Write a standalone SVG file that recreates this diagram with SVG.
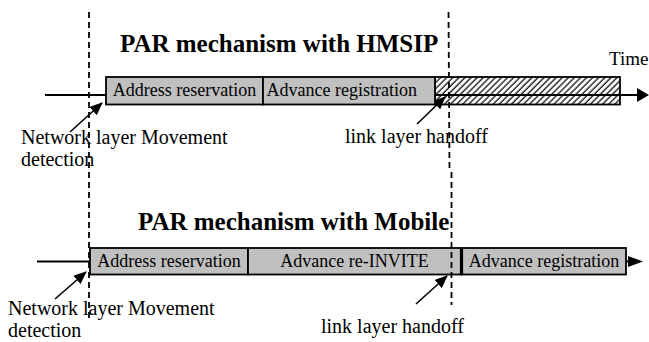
<svg xmlns="http://www.w3.org/2000/svg" width="649" height="342" viewBox="0 0 649 342">
<style>
text{font-family:"Liberation Serif","Times New Roman",serif;fill:#000}
.title{font-size:25px;font-weight:bold}
.lbl{font-size:20px}
.bx{font-size:18px}
.box{fill:#c0c0c0;stroke:#000;stroke-width:1.8}
.axis{stroke:#000;stroke-width:1.8;fill:none}
.dash{stroke:#000;stroke-width:1.8;stroke-dasharray:6,4;fill:none}
.ptr{stroke:#000;stroke-width:1.6;fill:none;marker-end:url(#ah)}
</style>
<defs>
<marker id="ah" markerUnits="userSpaceOnUse" markerWidth="13" markerHeight="11" refX="12" refY="5.5" orient="auto">
<path d="M0,0 L13,5.5 L0,11 z" fill="#000"/>
</marker>
<pattern id="hatch" patternUnits="userSpaceOnUse" width="4.3" height="4.3" patternTransform="rotate(45)">
<rect width="4.3" height="4.3" fill="#fff"/>
<line x1="1" y1="0" x2="1" y2="4.3" stroke="#222" stroke-width="1.4"/>
</pattern>
</defs>
<rect width="649" height="342" fill="#fff"/>

<g id="title-hmsip"><text class="title" x="120" y="52">PAR mechanism with HMSIP</text></g>
<g id="time-label"><text class="lbl" x="609" y="65" style="font-size:19px">Time</text></g>

<g id="hatched-period"><rect x="435" y="77" width="185" height="27.5" fill="url(#hatch)" stroke="#000" stroke-width="1.8"/></g>

<g id="connectors">
<line class="axis" x1="45" y1="95" x2="640" y2="95"/>
<polygon points="637,88 649,95 637,102" fill="#000"/>
<line class="axis" x1="37" y1="261.5" x2="630" y2="261.5"/>
<polygon points="628,256 643,261.5 628,267" fill="#000"/>
<line class="ptr" x1="70" y1="132" x2="102" y2="103"/>
<line class="ptr" x1="417" y1="124" x2="445" y2="97"/>
<line class="ptr" x1="55" y1="299" x2="86" y2="272"/>
<line class="ptr" x1="416" y1="304" x2="447" y2="276"/>
</g>

<g id="top-address"><rect class="box" x="106" y="77" width="157" height="27.5"/><text class="bx" x="184.5" y="95.5" text-anchor="middle">Address reservation</text></g>
<g id="top-advance-reg"><rect class="box" x="263" y="77" width="172" height="27.5"/><text class="bx" x="266.5" y="95.5">Advance registration</text></g>

<g id="top-netlabel"><text class="lbl" x="21" y="143.5">Network layer Movement</text><text class="lbl" x="21" y="166">detection</text></g>
<g id="top-linklabel"><text class="lbl" x="345" y="143">link layer handoff</text></g>

<g id="title-mobile"><text class="title" x="138" y="230">PAR mechanism with Mobile</text></g>

<g id="bot-address"><rect class="box" x="90" y="248" width="158" height="26.5"/><text class="bx" x="169" y="267" text-anchor="middle">Address reservation</text></g>
<g id="bot-reinvite"><rect class="box" x="248" y="248" width="213.5" height="26.5"/><text class="bx" x="354.5" y="267" text-anchor="middle">Advance re-INVITE</text></g>
<g id="bot-advance-reg"><rect class="box" x="461.5" y="248" width="164.5" height="26.5"/><line x1="461.5" y1="248" x2="461.5" y2="274.5" stroke="#000" stroke-width="3.2"/><text class="bx" x="544" y="267" text-anchor="middle">Advance registration</text></g>

<g id="bot-netlabel"><text class="lbl" x="8" y="315">Network layer Movement</text><text class="lbl" x="8" y="337.4">detection</text></g>
<g id="bot-linklabel"><text class="lbl" x="321" y="333">link layer handoff</text></g>

<g id="markers-dashed">
<line class="dash" x1="89" y1="12" x2="89" y2="318"/>
<path class="dash" d="M448.5 12 L449.5 170 M451.5 172 L451.5 305"/>
</g>
</svg>
